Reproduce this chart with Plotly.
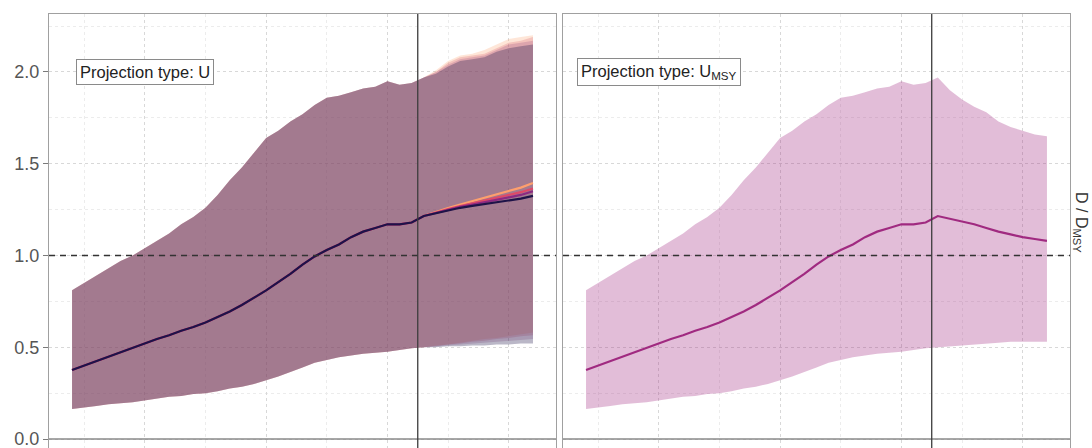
import plotly.graph_objects as go

# ---------------- data ----------------
hist_years = list(range(1974, 2004))          # 1974..2003
proj_years = list(range(2004, 2013))          # 2004..2012
ref_year = 2002.5

hist_upper = [0.81, 0.85, 0.89, 0.93, 0.97, 1.00, 1.04, 1.08, 1.12, 1.17,
              1.21, 1.26, 1.33, 1.41, 1.48, 1.56, 1.64, 1.68, 1.73, 1.77,
              1.82, 1.86, 1.87, 1.89, 1.91, 1.92, 1.95, 1.93, 1.94, 1.97]
hist_median = [0.376, 0.40, 0.425, 0.45, 0.475, 0.50, 0.52, 0.545, 0.565, 0.59,
               0.61, 0.635, 0.665, 0.695, 0.73, 0.77, 0.81, 0.855, 0.90, 0.95,
               0.995, 1.03, 1.06, 1.10, 1.13, 1.15, 1.17, 1.17, 1.18, 1.215]
hist_lower = [0.163, 0.17, 0.18, 0.19, 0.195, 0.20, 0.21, 0.22, 0.23, 0.235,
              0.245, 0.25, 0.26, 0.275, 0.285, 0.30, 0.32, 0.34, 0.365, 0.39,
              0.415, 0.43, 0.445, 0.455, 0.465, 0.47, 0.475, 0.485, 0.495, 0.50]

# Projection type: U  (four scenarios)
u_upper = {
    "navy":   [1.99, 2.03, 2.06, 2.07, 2.08, 2.11, 2.13, 2.14, 2.15],
    "purple": [2.00, 2.04, 2.07, 2.08, 2.09, 2.12, 2.15, 2.16, 2.17],
    "pink":   [2.00, 2.05, 2.08, 2.09, 2.10, 2.13, 2.16, 2.17, 2.19],
    "orange": [2.01, 2.06, 2.09, 2.10, 2.12, 2.15, 2.18, 2.19, 2.20],
}
u_median = {
    "navy":   [1.23, 1.245, 1.26, 1.27, 1.28, 1.29, 1.30, 1.31, 1.325],
    "purple": [1.232, 1.25, 1.265, 1.277, 1.29, 1.30, 1.315, 1.33, 1.35],
    "pink":   [1.235, 1.253, 1.27, 1.285, 1.30, 1.315, 1.33, 1.345, 1.365],
    "orange": [1.238, 1.258, 1.278, 1.296, 1.314, 1.332, 1.35, 1.37, 1.395],
}
u_lower = {
    "navy":   [0.50, 0.505, 0.505, 0.51, 0.51, 0.515, 0.515, 0.52, 0.52],
    "purple": [0.505, 0.51, 0.515, 0.52, 0.525, 0.53, 0.535, 0.54, 0.545],
    "pink":   [0.505, 0.515, 0.52, 0.53, 0.535, 0.545, 0.55, 0.56, 0.565],
    "orange": [0.51, 0.515, 0.525, 0.535, 0.545, 0.55, 0.56, 0.57, 0.58],
}

# Projection type: U_MSY
umsy_upper = [1.90, 1.85, 1.81, 1.78, 1.73, 1.70, 1.68, 1.66, 1.65]
umsy_median = [1.20, 1.185, 1.17, 1.15, 1.13, 1.115, 1.10, 1.09, 1.08]
umsy_lower = [0.505, 0.51, 0.515, 0.52, 0.525, 0.53, 0.53, 0.53, 0.53]

y_ticks = [0.0, 0.5, 1.0, 1.5, 2.0]
y_ticklabels = ["0.0", "0.5", "1.0", "1.5", "2.0"]
x_major = [1980, 1990, 2000, 2010]
x_minor = [1975, 1985, 1995, 2005]
y_minor = [0.25, 0.75, 1.25, 1.75, 2.25]

# ---------------- styles ----------------
u_line_col = {"navy": "#1E1348", "purple": "#8C2981", "pink": "#DE4968", "orange": "#FE9F6D"}
u_fill_col = {"navy": "rgba(40,30,80,0.32)", "purple": "rgba(140,60,125,0.22)",
              "pink": "rgba(215,95,110,0.26)", "orange": "rgba(250,165,115,0.28)"}
umsy_line = "#A02A80"
umsy_fill = "rgba(164,50,135,0.32)"

fig = go.Figure()

years = hist_years + proj_years

def ribbon(xax, yax, up, lo, color):
    fig.add_trace(go.Scatter(
        x=years + years[::-1], y=up + lo[::-1], fill="toself", fillcolor=color,
        line=dict(width=0), mode="lines", hoverinfo="skip", showlegend=False,
        xaxis=xax, yaxis=yax))

for name in ["orange", "pink", "purple", "navy"]:
    ribbon("x", "y", hist_upper + u_upper[name], hist_lower + u_lower[name], u_fill_col[name])
for name in ["orange", "pink", "purple", "navy"]:
    fig.add_trace(go.Scatter(x=years, y=hist_median + u_median[name], mode="lines",
                             line=dict(color=u_line_col[name], width=2.2),
                             showlegend=False, xaxis="x", yaxis="y"))

ribbon("x2", "y2", hist_upper + umsy_upper, hist_lower + umsy_lower, umsy_fill)
fig.add_trace(go.Scatter(x=years, y=hist_median + umsy_median, mode="lines",
                         line=dict(color=umsy_line, width=2.2),
                         showlegend=False, xaxis="x2", yaxis="y2"))

xr = [1972.1, 2013.9]
yr = [-0.049, 2.316]
border = "#A0A0A0"
grid_major = "#D8D8D8"
grid_minor = "#ECECEC"

xcommon = dict(range=xr, tickvals=x_major, showticklabels=False, ticks="",
               showgrid=True, gridcolor=grid_major, griddash="dot", gridwidth=1,
               minor=dict(tickvals=x_minor, showgrid=True, gridcolor=grid_minor,
                          griddash="dot", gridwidth=1, ticks=""),
               zeroline=False, showline=True, mirror=True, linecolor=border,
               linewidth=1.3, fixedrange=True)
ycommon = dict(range=yr, tickvals=y_ticks, ticktext=y_ticklabels,
               showgrid=True, gridcolor=grid_major, griddash="dot", gridwidth=1,
               minor=dict(tickvals=y_minor, showgrid=True, gridcolor=grid_minor,
                          griddash="dot", gridwidth=1, ticks=""),
               zeroline=False, showline=True, mirror=True, linecolor=border,
               linewidth=1.3, fixedrange=True)

fig.update_layout(
    width=1092, height=448,
    margin=dict(l=49, r=22, t=14, b=0, autoexpand=False),
    paper_bgcolor="white", plot_bgcolor="white",
    font=dict(family="Liberation Sans, Arial, sans-serif"),
    xaxis=dict(domain=[0, 0.4966], anchor="y", **xcommon),
    xaxis2=dict(domain=[0.5034, 1], anchor="y2", **xcommon),
    yaxis=dict(anchor="x", ticks="outside", ticklen=5, tickcolor="#7A7A7A",
               ticklabeloverflow="allow",
               tickfont=dict(size=18, color="#555555"), **ycommon),
    yaxis2=dict(anchor="x2", matches="y", showticklabels=False, ticks="", **ycommon),
    showlegend=False,
)

shapes = []
for xa, ya in [("x", "y"), ("x2", "y2")]:
    shapes.append(dict(type="line", xref=f"{xa} domain", yref=ya, x0=0, x1=1, y0=0, y1=0,
                       line=dict(color="#8A8A8A", width=1.6)))
    shapes.append(dict(type="line", xref=f"{xa} domain", yref=ya, x0=0, x1=1, y0=1, y1=1,
                       line=dict(color="#333333", width=1.5, dash="6px,5px")))
    shapes.append(dict(type="line", xref=xa, yref=f"{ya} domain", x0=ref_year, x1=ref_year,
                       y0=0, y1=1, line=dict(color="#3C3C3C", width=1.3)))
fig.update_layout(shapes=shapes)

ann_common = dict(y=2.0, showarrow=False, bgcolor="white", bordercolor="#8A8A8A",
                  borderwidth=1, borderpad=3, xanchor="center", yanchor="middle",
                  font=dict(size=16.5, color="#222222"))
fig.add_annotation(x=1980, xref="x", yref="y", text="Projection type: U", **ann_common)
fig.add_annotation(x=1980, xref="x2", yref="y2", text="Projection type: U<sub>MSY</sub>", **ann_common)

fig.add_annotation(x=(1081 - 49) / 1021, y=(448 - 222) / 434, xref="paper", yref="paper",
                   text="D / D<sub>MSY</sub>", textangle=90, showarrow=False,
                   xanchor="center", yanchor="middle",
                   font=dict(size=16, color="#333333"))

fig.write_html("out.html", config={"displayModeBar": False},
               post_script="document.body.style.margin='0';document.body.style.overflow='hidden';")
